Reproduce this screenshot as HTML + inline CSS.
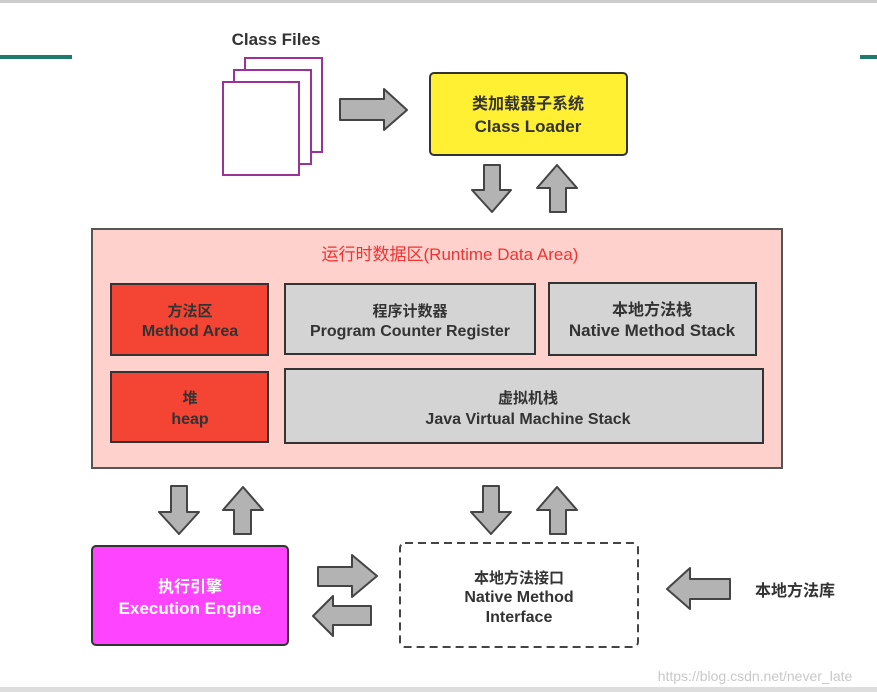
<!DOCTYPE html>
<html><head><meta charset="utf-8"><style>
html,body{margin:0;padding:0;background:#fff;width:877px;height:692px;overflow:hidden}
svg{display:block}
text{font-family:"Liberation Sans","Noto Sans CJK SC",sans-serif;font-weight:bold;fill:#333}
</style></head><body>
<svg width="877" height="692" viewBox="0 0 877 692">
<rect x="0" y="0" width="877" height="3" fill="#ccc"/>
<rect x="0" y="687" width="877" height="5" fill="#ddd"/>
<rect x="0" y="55" width="72" height="4" fill="#1f7a6e"/>
<rect x="860" y="55" width="17" height="4" fill="#1f7a6e"/>

<text x="276" y="45" font-size="17" text-anchor="middle">Class Files</text>
<g fill="#fff" stroke="#993399" stroke-width="2">
<rect x="245" y="58" width="77" height="94"/>
<rect x="234" y="70" width="77" height="94"/>
<rect x="223" y="82" width="76" height="93"/>
</g>
<g fill="#b3b3b3" stroke="#444" stroke-width="2" stroke-linejoin="round">
<polygon points="340,99 384,99 384,89 407,110 384,130 384,120 340,120"/>
<polygon points="484,165 500,165 500,190 511,190 492,212 472,190 484,190"/>
<polygon points="550,212 566,212 566,188 577,188 557,165 537,188 550,188"/>
<polygon points="171,486 187,486 187,512 199,512 179,534 159,512 171,512"/>
<polygon points="234,534 251,534 251,510 263,510 243,487 223,510 234,510"/>
<polygon points="483,486 499,486 499,512 511,512 491,534 471,512 483,512"/>
<polygon points="550,534 566,534 566,510 577,510 557,487 537,510 550,510"/>
<polygon points="318,567 352,567 352,555 377,576 352,597 352,586 318,586"/>
<polygon points="371,606 333,606 333,596 313,616 333,636 333,625 371,625"/>
<polygon points="730,579 690,579 690,568 667,589 690,609 690,599 730,599"/>
</g>

<rect x="430" y="73" width="197" height="82" rx="4" fill="#fff033" stroke="#333" stroke-width="2"/>
<text x="528" y="109" font-size="16" text-anchor="middle">类加载器子系统</text>
<text x="528" y="132" font-size="17" text-anchor="middle">Class Loader</text>

<rect x="92" y="229" width="690" height="239" fill="#ffd1cc" stroke="#555" stroke-width="2"/>
<text x="450" y="260" font-size="17" text-anchor="middle" style="font-weight:normal;fill:#ee3333">运行时数据区(Runtime Data Area)</text>

<g stroke="#333" stroke-width="2">
<rect x="111" y="284" width="157" height="71" fill="#f44433"/>
<rect x="285" y="284" width="250" height="70" fill="#d4d4d4"/>
<rect x="549" y="283" width="207" height="72" fill="#d4d4d4"/>
<rect x="111" y="372" width="157" height="70" fill="#f44433"/>
<rect x="285" y="369" width="478" height="74" fill="#d4d4d4"/>
</g>
<text x="190" y="316" font-size="15" text-anchor="middle">方法区</text>
<text x="190" y="336" font-size="16" text-anchor="middle">Method Area</text>
<text x="410" y="316" font-size="15" text-anchor="middle">程序计数器</text>
<text x="410" y="336" font-size="16" text-anchor="middle">Program Counter Register</text>
<text x="652" y="315" font-size="16" text-anchor="middle">本地方法栈</text>
<text x="652" y="336" font-size="17" text-anchor="middle">Native Method Stack</text>
<text x="190" y="403" font-size="15" text-anchor="middle">堆</text>
<text x="190" y="424" font-size="16" text-anchor="middle">heap</text>
<text x="528" y="403" font-size="15" text-anchor="middle">虚拟机栈</text>
<text x="528" y="424" font-size="16" text-anchor="middle">Java Virtual Machine Stack</text>

<rect x="92" y="546" width="196" height="99" rx="4" fill="#ff44ff" stroke="#333" stroke-width="2"/>
<text x="190" y="592" font-size="16" text-anchor="middle" style="fill:#fff">执行引擎</text>
<text x="190" y="614" font-size="17" text-anchor="middle" style="fill:#fff">Execution Engine</text>

<rect x="400" y="543" width="238" height="104" rx="5" fill="#fff" stroke="#444" stroke-width="2" stroke-dasharray="8,5"/>
<text x="519" y="583" font-size="15" text-anchor="middle">本地方法接口</text>
<text x="519" y="602" font-size="16" text-anchor="middle">Native Method</text>
<text x="519" y="622" font-size="16" text-anchor="middle">Interface</text>

<text x="795" y="596" font-size="16" text-anchor="middle">本地方法库</text>
<text x="755" y="681" font-size="14" text-anchor="middle" style="font-weight:normal;fill:#c8c8c8">https://blog.csdn.net/never_late</text>
</svg>
</body></html>
